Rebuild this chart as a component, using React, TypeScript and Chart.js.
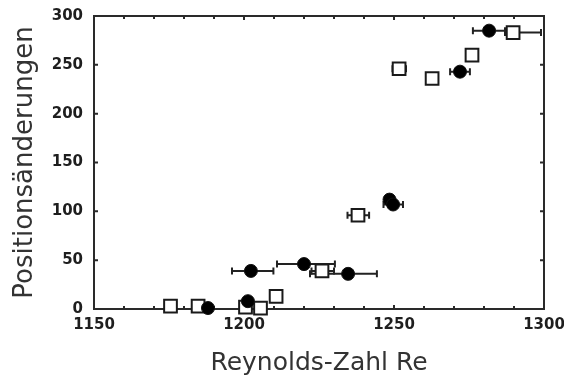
import React, { useEffect, useRef } from "react";
import { Chart, registerables } from "chart.js";

Chart.register(...registerables);

// Filled circles
const circleX = [1188, 1201.3, 1202.3, 1220, 1234.7, 1248.5, 1249.7, 1272, 1281.7];
const circleY = [1, 8, 39, 46, 36, 112, 107, 243, 285];
const circleErrLo = [1188, 1201.3, 1196, 1211, 1222, 1248.5, 1246.5, 1268.7, 1276.3];
const circleErrHi = [1188, 1201.3, 1209.8, 1230.3, 1244.3, 1248.5, 1253, 1275.3, 1287];

// Open squares
const squareX = [1175.5, 1184.7, 1200.5, 1205.5, 1210.7, 1226, 1238, 1251.7, 1262.7, 1276, 1289.7];
const squareY = [3, 3, 2, 1, 13, 39, 96, 246, 236, 260, 283];
const squareErrLo = [1175.5, 1184.7, 1200.5, 1205.5, 1210.7, 1222.5, 1234.5, 1249.5, 1262.7, 1274, 1287];
const squareErrHi = [1175.5, 1184.7, 1200.5, 1205.5, 1210.7, 1230, 1241.7, 1254, 1262.7, 1278, 1299];

// Axes
const xMin = 1150;
const xMax = 1300;
const xMajorTicks = [1150, 1200, 1250, 1300];
const xMinorStep = 10;
const yMin = 0;
const yMax = 300;
const yTicks = [0, 50, 100, 150, 200, 250, 300];
const xTitle = "Reynolds-Zahl Re";
const yTitle = "Positionsänderungen";

export default function App() {
  const ref = useRef<HTMLCanvasElement>(null);

  useEffect(() => {
    const canvas = ref.current;
    if (!canvas) return;

    const errorBars = {
      id: "errorBars",
      beforeDatasetsDraw(chart: any) {
        const { ctx, scales } = chart;
        const xs = scales.x;
        const ys = scales.y;
        const sets = [
          { x: circleX, y: circleY, lo: circleErrLo, hi: circleErrHi },
          { x: squareX, y: squareY, lo: squareErrLo, hi: squareErrHi },
        ];
        ctx.save();
        ctx.strokeStyle = "#222";
        ctx.lineWidth = 2;
        for (const s of sets) {
          for (let i = 0; i < s.x.length; i++) {
            if (s.lo[i] === s.hi[i]) continue;
            const py = ys.getPixelForValue(s.y[i]);
            const pl = xs.getPixelForValue(s.lo[i]);
            const ph = xs.getPixelForValue(s.hi[i]);
            ctx.beginPath();
            ctx.moveTo(pl, py);
            ctx.lineTo(ph, py);
            ctx.moveTo(pl, py - 3.5);
            ctx.lineTo(pl, py + 3.5);
            ctx.moveTo(ph, py - 3.5);
            ctx.lineTo(ph, py + 3.5);
            ctx.stroke();
          }
        }
        ctx.restore();
      },
    };

    const frame = {
      id: "frame",
      beforeDatasetsDraw(chart: any) {
        const { ctx, chartArea, scales } = chart;
        const { left, right, top, bottom } = chartArea;
        const xs = scales.x;
        const ys = scales.y;
        ctx.save();
        ctx.strokeStyle = "#2a2a2a";
        ctx.lineWidth = 2;
        ctx.strokeRect(left, top, right - left, bottom - top);
        ctx.beginPath();
        for (const v of yTicks) {
          const p = ys.getPixelForValue(v);
          ctx.moveTo(left, p);
          ctx.lineTo(left + 4, p);
          ctx.moveTo(right, p);
          ctx.lineTo(right - 4, p);
        }
        for (let v = xMin; v <= xMax; v += xMinorStep) {
          const p = xs.getPixelForValue(v);
          const major = xMajorTicks.includes(v);
          ctx.moveTo(p, bottom);
          ctx.lineTo(p, bottom - (major ? 4 : 3));
          ctx.moveTo(p, top);
          ctx.lineTo(p, top + (major ? 4 : 3));
        }
        ctx.stroke();
        ctx.restore();
      },
    };

    const chart = new Chart(canvas, {
      type: "scatter",
      data: {
        datasets: [
          {
            label: "circles",
            data: circleX.map((x, i) => ({ x, y: circleY[i] })),
            pointStyle: "circle",
            pointRadius: 6.5,
            pointBackgroundColor: "#000",
            pointBorderColor: "#111",
            pointBorderWidth: 1,
            clip: false as any,
          },
          {
            label: "squares",
            data: squareX.map((x, i) => ({ x, y: squareY[i] })),
            pointStyle: "rect",
            pointRadius: 9,
            pointBackgroundColor: "#fff",
            pointBorderColor: "#1a1a1a",
            pointBorderWidth: 2,
            clip: false as any,
          },
        ],
      },
      options: {
        animation: false,
        responsive: false,
        devicePixelRatio: 1,
        events: [],
        layout: { padding: { left: 0, right: 20, top: 16, bottom: 0 } },
        plugins: {
          legend: { display: false },
          tooltip: { enabled: false },
        },
        scales: {
          x: {
            type: "linear",
            min: xMin,
            max: xMax,
            grid: { display: false, drawTicks: false },
            border: { display: false },
            afterBuildTicks: (scale: any) => {
              scale.ticks = xMajorTicks.map((v) => ({ value: v }));
            },
            afterFit: (scale: any) => {
              scale.height = 71;
              scale.paddingLeft = 0;
              scale.paddingRight = 0;
            },
            ticks: {
              padding: 7,
              maxRotation: 0,
              color: "#1e1e1e",
              font: { family: "DejaVu Sans", size: 15, weight: "bold" },
              callback: (v: any) => String(v),
            },
            title: {
              display: true,
              text: xTitle,
              color: "#333",
              font: { family: "DejaVu Sans", size: 25 },
              padding: { top: 0, bottom: 2 },
            },
          },
          y: {
            type: "linear",
            min: yMin,
            max: yMax,
            grid: { display: false, drawTicks: false },
            border: { display: false },
            afterBuildTicks: (scale: any) => {
              scale.ticks = yTicks.map((v) => ({ value: v }));
            },
            afterFit: (scale: any) => {
              scale.width = 94;
              scale.paddingTop = 0;
              scale.paddingBottom = 0;
            },
            ticks: {
              padding: 11,
              color: "#1e1e1e",
              font: { family: "DejaVu Sans", size: 15, weight: "bold" },
              callback: (v: any) => String(v),
            },
            title: {
              display: true,
              text: yTitle,
              color: "#333",
              font: { family: "DejaVu Sans", size: 26 },
              padding: { top: 10, bottom: 0 },
            },
          },
        },
      },
      plugins: [frame, errorBars],
    });

    return () => chart.destroy();
  }, []);

  return (
    <div style={{ position: "fixed", left: 0, top: 0, width: 564, height: 380, background: "#fff" }}>
      <canvas ref={ref} width={564} height={380} style={{ display: "block", width: 564, height: 380 }} />
    </div>
  );
}
